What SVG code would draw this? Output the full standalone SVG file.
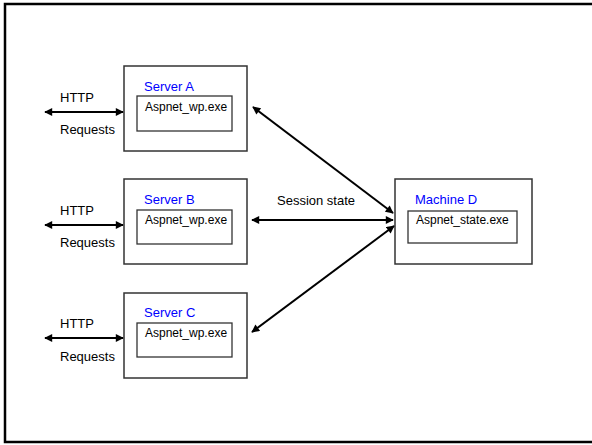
<svg xmlns="http://www.w3.org/2000/svg" width="592" height="445" viewBox="0 0 592 445">
<defs>
<style>
.box{fill:#fff;stroke:#333;stroke-width:1.5}
.in{fill:#fff;stroke:#333;stroke-width:1.3}
.t{font-family:"Comic Sans MS","Liberation Sans","DejaVu Sans",sans-serif;font-size:13px;fill:#000}
.s{font-family:"Comic Sans MS","Liberation Sans","DejaVu Sans",sans-serif;font-size:12px;fill:#000}
.b{font-family:"Comic Sans MS","Liberation Sans","DejaVu Sans",sans-serif;font-size:13px;fill:#0000ff}
.c{stroke:#000;stroke-width:2;fill:none;marker-start:url(#ah);marker-end:url(#ah)}
</style>
<marker id="ah" viewBox="0 0 10 10" refX="9" refY="5" markerWidth="4.5" markerHeight="4" orient="auto-start-reverse" markerUnits="strokeWidth">
<path d="M0,0 L10,5 L0,10 z" fill="#000"/>
</marker>
</defs>
<rect x="0" y="0" width="592" height="445" fill="#fff"/>
<rect id="frame" x="5" y="4" width="600" height="438" fill="none" stroke="#000" stroke-width="2.5"/>
<g id="serverA">
<rect class="box" x="124" y="66" width="123" height="85"/>
<text class="b" x="144" y="91">Server A</text>
<rect class="in" x="137" y="96" width="95" height="35"/>
<text class="s" x="145" y="111">Aspnet_wp.exe</text>
</g>
<g id="serverB">
<rect class="box" x="124" y="179" width="123" height="85"/>
<text class="b" x="144" y="204">Server B</text>
<rect class="in" x="137" y="210" width="95" height="34"/>
<text class="s" x="145" y="224">Aspnet_wp.exe</text>
</g>
<g id="serverC">
<rect class="box" x="124" y="293" width="123" height="85"/>
<text class="b" x="144" y="317">Server C</text>
<rect class="in" x="137" y="323" width="95" height="34"/>
<text class="s" x="145" y="337">Aspnet_wp.exe</text>
</g>
<g id="machineD">
<rect class="box" x="395" y="179" width="137" height="85"/>
<text class="b" x="415" y="204">Machine D</text>
<rect class="in" x="408" y="211" width="109" height="32"/>
<text class="s" x="416" y="224">Aspnet_state.exe</text>
</g>
<g id="labels">
<text class="t" x="60" y="102">HTTP</text>
<text class="t" x="60" y="134">Requests</text>
<text class="t" x="60" y="215">HTTP</text>
<text class="t" x="60" y="247">Requests</text>
<text class="t" x="60" y="328">HTTP</text>
<text class="t" x="60" y="361">Requests</text>
<text class="t" x="277" y="205">Session state</text>
</g>
<g id="connectors">
<line class="c" x1="45" y1="112" x2="123" y2="112"/>
<line class="c" x1="45" y1="225" x2="123" y2="225"/>
<line class="c" x1="45" y1="338" x2="123" y2="338"/>
<line class="c" x1="252" y1="220" x2="393" y2="220"/>
<line class="c" x1="253" y1="107" x2="393" y2="213"/>
<line class="c" x1="394" y1="226" x2="252" y2="332"/>
</g>
</svg>
